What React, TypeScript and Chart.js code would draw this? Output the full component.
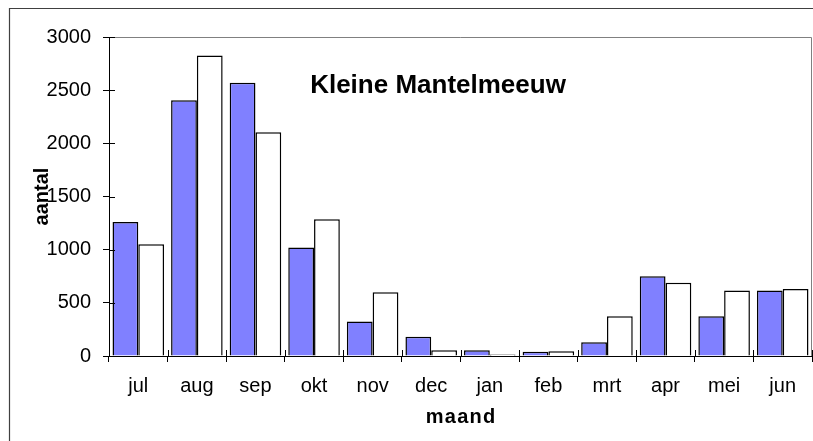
import React, { useEffect, useRef } from "react";
import { Chart, registerables } from "chart.js";

Chart.register(...registerables);

const months = ["jul", "aug", "sep", "okt", "nov", "dec", "jan", "feb", "mrt", "apr", "mei", "jun"];
const seriesBlue = [1260, 2405, 2570, 1020, 325, 180, 55, 40, 130, 750, 375, 615];
const seriesWhite = [1050, 2825, 2105, 1285, 600, 55, 15, 45, 375, 690, 615, 630];
const yTicks = [0, 500, 1000, 1500, 2000, 2500, 3000];
const chartTitle = "Kleine Mantelmeeuw";
const xTitle = "maand";
const yTitle = "aantal";

const FONT = "'Liberation Sans', Arial, sans-serif";

const framePlugin = {
  id: "framePlugin",
  afterDraw(chart: any) {
    const ctx = chart.ctx;
    const { left, right, top, bottom } = chart.chartArea;
    ctx.save();
    // outer frame
    ctx.strokeStyle = "#404040";
    ctx.lineWidth = 1.2;
    ctx.beginPath();
    ctx.moveTo(9.5, chart.height + 2);
    ctx.lineTo(9.5, 8.5);
    ctx.lineTo(chart.width + 2, 8.5);
    ctx.stroke();
    // plot area top/right border
    ctx.strokeStyle = "#808080";
    ctx.lineWidth = 1;
    ctx.beginPath();
    ctx.moveTo(left, top + 0.5);
    ctx.lineTo(right - 0.5, top + 0.5);
    ctx.lineTo(right - 0.5, bottom);
    ctx.stroke();
    // inner tick parts
    ctx.strokeStyle = "#000";
    ctx.beginPath();
    const ys = chart.scales.y;
    ys.ticks.forEach((t: any) => {
      const py = Math.round(ys.getPixelForValue(t.value)) + 0.5;
      ctx.moveTo(left, py);
      ctx.lineTo(left + 6, py);
    });
    const n = months.length;
    for (let i = 0; i <= n; i++) {
      const px = Math.round(left + ((right - left) * i) / n) + 0.5;
      ctx.moveTo(px, bottom);
      ctx.lineTo(px, bottom - 6);
    }
    ctx.stroke();
    ctx.fillStyle = "#000";
    // y axis title (rotated)
    ctx.save();
    ctx.translate(47.5, (top + bottom) / 2);
    ctx.rotate(-Math.PI / 2);
    ctx.font = `bold 20px ${FONT}`;
    ctx.textAlign = "center";
    ctx.textBaseline = "alphabetic";
    ctx.fillText(yTitle, 0, 0);
    ctx.restore();
    // x axis title (letter-spaced)
    ctx.save();
    ctx.font = `bold 20px ${FONT}`;
    (ctx as any).letterSpacing = "1.2px";
    ctx.textAlign = "left";
    ctx.textBaseline = "alphabetic";
    const w = ctx.measureText(xTitle).width;
    ctx.fillText(xTitle, (left + right) / 2 - w / 2 + 0.6, 423);
    ctx.restore();
    // chart title
    ctx.font = `bold 26px ${FONT}`;
    ctx.textAlign = "center";
    ctx.textBaseline = "alphabetic";
    ctx.fillText(chartTitle, 438, 93);
    ctx.restore();
  },
};

export default function App() {
  const ref = useRef<HTMLCanvasElement>(null);
  useEffect(() => {
    if (!ref.current) return;
    const chart = new Chart(ref.current, {
      type: "bar",
      data: {
        labels: months,
        datasets: [
          {
            data: seriesBlue,
            backgroundColor: "#8080FF",
            borderColor: "#000",
            borderWidth: 1.5,
            categoryPercentage: 0.88,
            barPercentage: 1,
          },
          {
            data: seriesWhite,
            backgroundColor: "#FFFFFF",
            borderColor: "#000",
            borderWidth: 1.5,
            categoryPercentage: 0.88,
            barPercentage: 1,
          },
        ],
      },
      options: {
        responsive: false,
        animation: false,
        layout: { padding: { top: 37, right: 1, left: 0, bottom: 0 } },
        plugins: {
          legend: { display: false },
          tooltip: { enabled: false },
          title: { display: false },
        },
        scales: {
          x: {
            grid: {
              offset: true,
              drawOnChartArea: false,
              drawTicks: true,
              tickLength: 6,
              color: "#000",
            },
            border: { display: true, color: "#000", width: 1 },
            ticks: {
              color: "#000",
              font: { family: FONT, size: 20 },
              padding: 12,
              maxRotation: 0,
            },
            title: { display: false },
            afterFit(scale: any) {
              scale.height = 85;
            },
          },
          y: {
            min: 0,
            max: 3000,
            afterBuildTicks(scale: any) {
              scale.ticks = yTicks.map((v) => ({ value: v }));
            },
            grid: {
              drawOnChartArea: false,
              drawTicks: true,
              tickLength: 6,
              color: "#000",
            },
            border: { display: true, color: "#000", width: 1 },
            ticks: {
              color: "#000",
              font: { family: FONT, size: 20 },
              padding: 12,
              callback: (v: any) => String(v),
            },
            title: { display: false },
            afterFit(scale: any) {
              scale.width = 109;
            },
          },
        },
      },
      plugins: [framePlugin],
    });
    return () => chart.destroy();
  }, []);
  return (
    <div style={{ position: "fixed", left: 0, top: 0, width: 813, height: 441, background: "#fff" }}>
      <canvas ref={ref} width={813} height={441} style={{ display: "block" }} />
    </div>
  );
}
